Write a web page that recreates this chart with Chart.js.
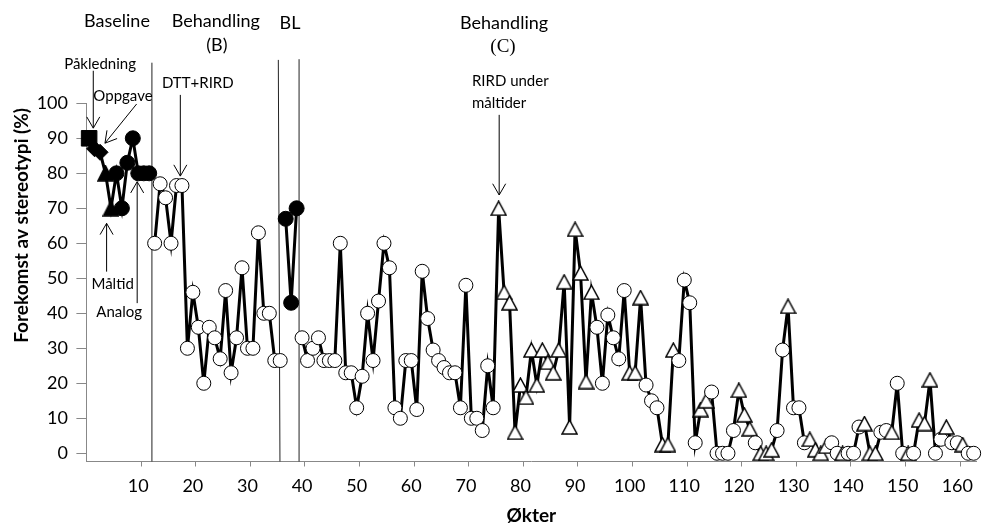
<!DOCTYPE html>
<html>
<head>
<meta charset="utf-8">
<script src="https://cdn.jsdelivr.net/npm/chart.js@4.4.0/dist/chart.umd.min.js"></script>
<style>
  html, body { margin: 0; padding: 0; background: #fff; }
</style>
</head>
<body>
<canvas id="myChart" width="982" height="532"></canvas>
<script>
"use strict";

// Baseline (økt 1-12), markør = kontekst
const baseValues = [90, 87, 86, 80, 70, 80, 70, 83, 90, 80, 80, 80];
const baseCond = ['P', 'O', 'O', 'M', 'M', 'A', 'A', 'A', 'A', 'A', 'A', 'A'];

// Behandling B (økt 13-36)
const phaseBValues = [60, 77, 73, 60, 76.5, 76.5, 30, 46, 36, 20, 36, 33, 27, 46.5, 23, 33, 53, 30, 30, 63, 40, 40, 26.5, 26.5];

// BL (økt 37-39)
const blValues = [67, 43, 70];

// Behandling C (økt 40-163), ti økter per rad
const phaseCValues = [
  33, 26.5, 30, 33, 26.5, 26.5, 26.5, 60, 23, 23,
  13, 22, 40, 26.5, 43.5, 60, 53, 13, 10, 26.5,
  26.5, 12.5, 52, 38.5, 29.5, 26.5, 24.5, 23, 23, 13,
  48, 10, 10, 6.5, 25, 13, 70, 46, 43, 6,
  19.5, 16, 29.5, 19.5, 29.5, 26, 23, 29.5, 49, 7.5,
  64, 51.5, 20.5, 46, 36, 20, 39.5, 33, 27, 46.5,
  23, 23, 44.5, 19.5, 15, 13, 2.5, 2.5, 29.5, 26.5,
  49.5, 43, 3, 12.5, 15, 17.5, 0, 0, 0, 6.5,
  18, 11, 7, 3, 0, 0, 1, 6.5, 29.5, 42,
  13, 13, 3, 4, 1, 0, 2, 3, 0, 0,
  0, 0, 7.5, 8.5, 0, 0, 6, 6.5, 6, 20,
  0, 0, 0, 9.5, 8.5, 21, 0, 4, 7.5, 3,
  3, 2.5, 0, 0
];
// c = sirkel, t = trekant (RIRD under måltider), samme rader som over
const phaseCCond = [
  'cccccccccc',
  'cccccccccc',
  'cccccccccc',
  'cccccctttt',
  'tttttttttt',
  'ttttcccccc',
  'tttccctttc',
  'cccttccccc',
  'tttctttcct',
  'cccttttcct',
  'ccctttcctc',
  'ctctttcctc',
  'ctcc'
].join('').split('');

const phaseStarts = { base: 1, B: 13, BL: 37, C: 40 };
const xTicks = [10, 20, 30, 40, 50, 60, 70, 80, 90, 100, 110, 120, 130, 140, 150, 160];
const yTicks = [0, 10, 20, 30, 40, 50, 60, 70, 80, 90, 100];

// fase-linjer og tekster (i dataenheter)
const phaseLines = [
  { x1: 12.5, x2: 12.5, top: 111.6 },
  { x1: 35.65, x2: 35.95, top: 112.4 },
  { x1: 39.45, x2: 39.45, top: 112.6 }
];
const headings = [
  { text: 'Baseline', x: 6.1, y: 123.6 },
  { text: 'Behandling', x: 24.2, y: 123.6 },
  { text: '(B)', x: 24.4, y: 116.7 },
  { text: 'BL', x: 37.8, y: 123 },
  { text: 'Behandling', x: 77, y: 123 },
  { text: '(C)', x: 76.8, y: 116.2, serif: true }
];
const notes = [
  { text: 'Påkledning', x: 3, y: 111.2 },
  { text: 'Oppgave', x: 7.2, y: 102.1 },
  { text: 'DTT+RIRD', x: 20.9, y: 105.7 },
  { text: 'Måltid', x: 5.3, y: 48.4 },
  { text: 'Analog', x: 6.5, y: 40.2 },
  { text: 'RIRD under', x: 71.1, y: 106.2, left: true },
  { text: 'måltider', x: 71.1, y: 100, left: true }
];
const arrows = [
  { from: [1.76, 109.3], to: [1.76, 92.9] },
  { from: [9.7, 99.8], to: [3.9, 88.6] },
  { from: [17.7, 102.4], to: [17.7, 79.2] },
  { from: [4.2, 51.9], to: [4.2, 65.7] },
  { from: [9.8, 42.9], to: [9.8, 77.6] },
  { from: [76.1, 96.7], to: [76.1, 73.8] }
];

const FONT = 'Lato, "Open Sans", sans-serif';

function triMarker(w, h, fill) {
  const c = document.createElement('canvas');
  c.width = w + 2;
  c.height = h + 2;
  const g = c.getContext('2d');
  g.beginPath();
  g.moveTo(c.width / 2, 1);
  g.lineTo(c.width - 1, c.height - 1);
  g.lineTo(1, c.height - 1);
  g.closePath();
  g.fillStyle = fill;
  g.fill();
  g.lineWidth = 1.5;
  g.strokeStyle = '#000';
  g.stroke();
  return c;
}
const openTri = triMarker(15, 14, '#fff');
const fillTri = triMarker(15, 15, '#000');

const markers = {
  P: { style: 'rect', r: 11, fill: '#000' },
  O: { style: 'rectRot', r: 8, fill: '#000' },
  M: { style: fillTri, r: 8, fill: '#000' },
  A: { style: 'circle', r: 7.5, fill: '#000' },
  c: { style: 'circle', r: 7, fill: '#fff' },
  t: { style: openTri, r: 8, fill: '#fff' },
  f: { style: 'circle', r: 7.5, fill: '#000' }
};

function makeSet(start, values, conds) {
  const pts = values.map((v, i) => ({ x: start + i, y: v }));
  const m = conds.map(k => markers[k]);
  return {
    data: pts,
    borderColor: '#000',
    borderWidth: 3,
    tension: 0,
    clip: false,
    pointStyle: m.map(o => o.style),
    pointRadius: m.map(o => o.r),
    pointBackgroundColor: m.map(o => o.fill),
    pointBorderColor: '#000',
    pointBorderWidth: 1,
    pointHoverRadius: m.map(o => o.r)
  };
}

const annotationPlugin = {
  id: 'phaseNotes',
  beforeDatasetsDraw(chart) {
    const { ctx, scales: { x, y } } = chart;
    ctx.save();
    ctx.strokeStyle = '#222';
    ctx.lineWidth = 1;
    phaseLines.forEach(l => {
      ctx.beginPath();
      ctx.moveTo(x.getPixelForValue(l.x1), y.getPixelForValue(l.top));
      ctx.lineTo(x.getPixelForValue(l.x2), y.bottom);
      ctx.stroke();
    });
    ctx.restore();
  },
  afterDatasetsDraw(chart) {
    const { ctx, scales: { x, y } } = chart;
    ctx.save();
    ctx.fillStyle = '#000';
    ctx.textBaseline = 'middle';
    headings.forEach(h => {
      ctx.font = h.serif ? '19px "Liberation Serif", serif' : '18px ' + FONT;
      ctx.textAlign = 'center';
      ctx.fillText(h.text, x.getPixelForValue(h.x), y.getPixelForValue(h.y));
    });
    ctx.font = '15px ' + FONT;
    notes.forEach(n => {
      ctx.textAlign = n.left ? 'left' : 'center';
      ctx.fillText(n.text, x.getPixelForValue(n.x), y.getPixelForValue(n.y));
    });
    ctx.strokeStyle = '#000';
    ctx.lineWidth = 1;
    arrows.forEach(a => {
      const x0 = x.getPixelForValue(a.from[0]), y0 = y.getPixelForValue(a.from[1]);
      const x1 = x.getPixelForValue(a.to[0]), y1 = y.getPixelForValue(a.to[1]);
      const ang = Math.atan2(y1 - y0, x1 - x0);
      const len = 13, spread = Math.PI / 6;
      ctx.beginPath();
      ctx.moveTo(x0, y0);
      ctx.lineTo(x1, y1);
      ctx.moveTo(x1 - len * Math.cos(ang - spread), y1 - len * Math.sin(ang - spread));
      ctx.lineTo(x1, y1);
      ctx.lineTo(x1 - len * Math.cos(ang + spread), y1 - len * Math.sin(ang + spread));
      ctx.stroke();
    });
    ctx.restore();
  }
};

const ctx = document.getElementById('myChart');

new Chart(ctx, {
  type: 'line',
  data: {
    datasets: [
      makeSet(phaseStarts.base, baseValues, baseCond),
      makeSet(phaseStarts.B, phaseBValues, phaseBValues.map(() => 'c')),
      makeSet(phaseStarts.BL, blValues, blValues.map(() => 'f')),
      makeSet(phaseStarts.C, phaseCValues, phaseCCond)
    ]
  },
  options: {
    responsive: false,
    animation: false,
    devicePixelRatio: 1,
    layout: { autoPadding: false, padding: { top: 103.3, right: 5.6, left: 0, bottom: 0 } },
    plugins: {
      legend: { display: false },
      tooltip: { enabled: false }
    },
    scales: {
      x: {
        type: 'linear',
        min: 0.5,
        max: 163.5,
        afterBuildTicks: s => { s.ticks = xTicks.map(v => ({ value: v + 0.5 })); },
        afterFit: s => { s.height = 70.5; s.paddingLeft = 0; s.paddingRight = 0; },
        ticks: {
          callback: v => String(v - 0.5),
          labelOffset: -2.73,
          maxRotation: 0,
          autoSkip: false,
          padding: 9,
          color: '#000',
          font: { family: FONT, size: 18 }
        },
        grid: { drawOnChartArea: false, tickLength: 5, color: '#888', tickWidth: 1 },
        border: { color: '#888', width: 1 },
        title: {
          display: true,
          text: 'Økter',
          color: '#000',
          font: { family: FONT, size: 19, weight: 'bold' },
          padding: { top: 0, bottom: 4.6 }
        }
      },
      y: {
        min: -2.35,
        max: 100,
        afterBuildTicks: s => { s.ticks = yTicks.map(v => ({ value: v })); },
        afterFit: s => { s.width = 86.4; },
        ticks: {
          padding: 8.4,
          color: '#000',
          font: { family: FONT, size: 18 }
        },
        grid: { drawOnChartArea: false, tickLength: 10, color: '#888', tickWidth: 1 },
        border: { color: '#888', width: 1 },
        title: {
          display: true,
          text: 'Forekomst av stereotypi (%) ',
          align: 'end',
          color: '#000',
          font: { family: FONT, size: 19, weight: 'bold' },
          padding: { top: 10.3, bottom: 0 }
        }
      }
    }
  },
  plugins: [annotationPlugin]
});
</script>
</body>
</html>
